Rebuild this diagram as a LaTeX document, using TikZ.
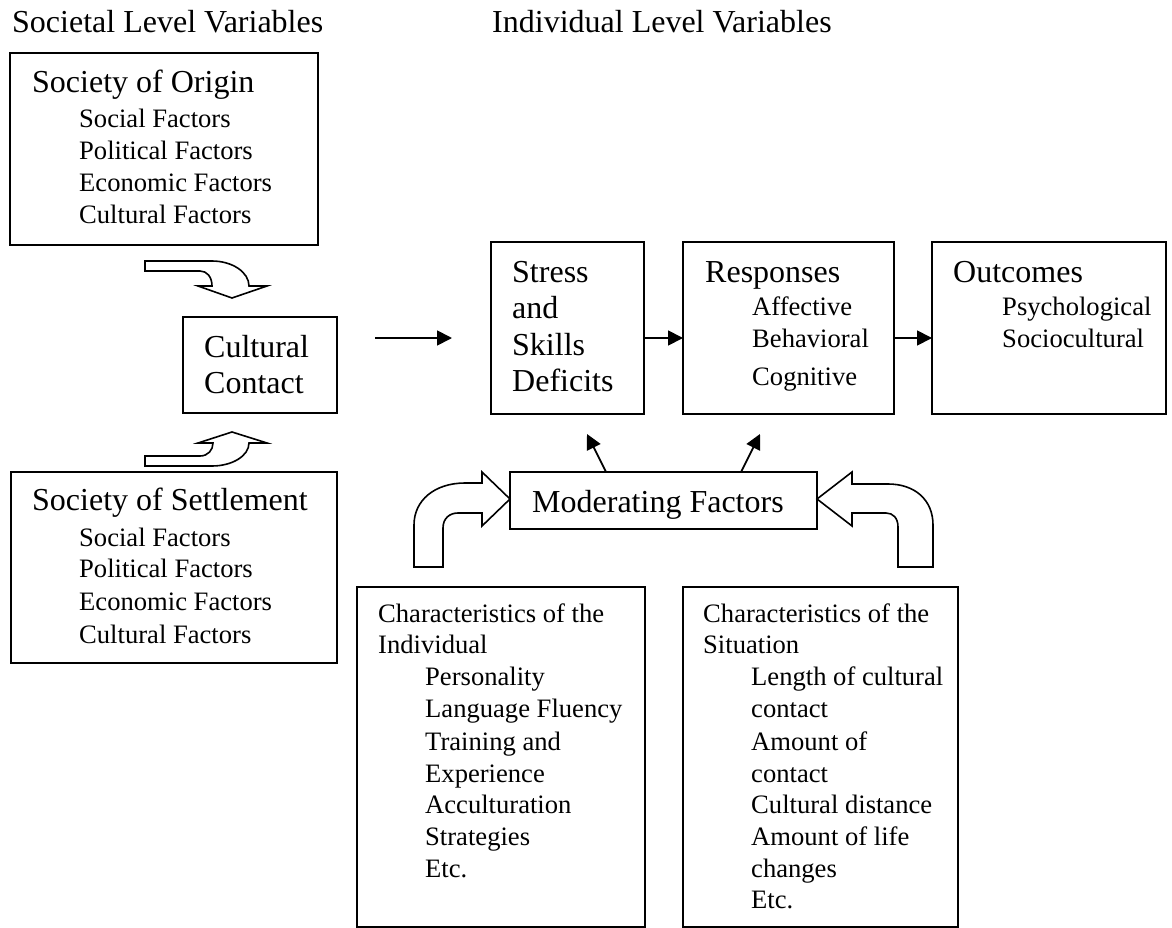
\documentclass[tikz,border=0pt]{standalone}
\usepackage{fontspec}
\setmainfont{Liberation Serif}
\usetikzlibrary{arrows.meta,calc}
\newcommand{\titlefont}{\fontsize{32}{37}\selectfont}
\newcommand{\itemfont}{\fontsize{26.6}{32}\selectfont}
\tikzset{
  box/.style={draw, line width=1.8, inner sep=0, outer sep=0, anchor=north west},
  ttl/.style={anchor=base west, inner sep=0, font=\titlefont},
  itm/.style={anchor=base west, inner sep=0, font=\itemfont},
  arr/.style={line width=1.8, -{Triangle[length=15,width=15]}},
  bent/.style={draw, line width=1.6, fill=white, line join=miter}
}
\begin{document}
\begin{tikzpicture}[x=1pt,y=-1pt]
\useasboundingbox (0,0) rectangle (1172,928);
% headings
\node[ttl] (hs) at (12,33) {Societal Level Variables};
\node[ttl] (hi) at (492,33) {Individual Level Variables};
% boxes
\node[box, minimum width=308, minimum height=192] (origin) at (10,53) {};
\node[box, minimum width=326, minimum height=191] (settle) at (11,472) {};
\node[box, minimum width=154, minimum height=96] (cc) at (183,317) {};
\node[box, minimum width=153, minimum height=172] (stress) at (491,242) {};
\node[box, minimum width=211, minimum height=172] (resp) at (683,242) {};
\node[box, minimum width=234, minimum height=172] (outc) at (932,242) {};
\node[box, minimum width=307, minimum height=57] (mod) at (510,472) {};
\node[box, minimum width=288, minimum height=340] (indiv) at (357,587) {};
\node[box, minimum width=275, minimum height=340] (situ) at (683,587) {};
% society of origin
\node[ttl] (ot) at (32,93) {Society of Origin};
\foreach \yy/\txt [count=\k] in {128/Social Factors,160/Political Factors,192/Economic Factors,223/Cultural Factors}
  \node[itm] (oi\k) at (79,\yy) {\txt};
% society of settlement
\node[ttl] (st) at (32,510) {Society of Settlement};
\foreach \yy/\txt [count=\k] in {546/Social Factors,577/Political Factors,610/Economic Factors,643/Cultural Factors}
  \node[itm] (si\k) at (79,\yy) {\txt};
% cultural contact
\node[ttl] (cc1) at (204,357) {Cultural};
\node[ttl] (cc2) at (204,393) {Contact};
% stress
\foreach \yy/\txt [count=\k] in {282/Stress,318.5/and,355/Skills,391.5/Deficits}
  \node[ttl] (sd\k) at (512,\yy) {\txt};
% responses
\node[ttl] (rt) at (705,282) {Responses};
\foreach \yy/\txt [count=\k] in {315/Affective,347/Behavioral,385/Cognitive}
  \node[itm] (ri\k) at (752,\yy) {\txt};
% outcomes
\node[ttl] (ut) at (953,282) {Outcomes};
\foreach \yy/\txt [count=\k] in {315/Psychological,347/Sociocultural}
  \node[itm] (ui\k) at (1002,\yy) {\txt};
% moderating
\node[ttl] (mt) at (532,512) {Moderating Factors};
% characteristics of the individual
\node[itm] (ci1) at (378,622) {Characteristics of the};
\node[itm] (ci2) at (378,653) {Individual};
\foreach \yy/\txt [count=\k] in {685/Personality,717/Language Fluency,750/Training and,782/Experience,813/Acculturation,845/Strategies,877/Etc.}
  \node[itm] (ii\k) at (425,\yy) {\txt};
% characteristics of the situation
\node[itm] (cs1) at (703,622) {Characteristics of the};
\node[itm] (cs2) at (703,653) {Situation};
\foreach \yy/\txt [count=\k] in {685/Length of cultural,717/contact,750/Amount of,782/contact,813/Cultural distance,845/Amount of life,877/changes,908/Etc.}
  \node[itm] (ti\k) at (751,\yy) {\txt};
% straight connectors
\coordinate (rowy) at (0,338);
\coordinate (ccA) at (375,338);
\coordinate (ccB) at (452,338);
\draw[arr] (ccA) -- (ccB);
\draw[arr] (stress.east |- rowy) -- (resp.west |- rowy);
\draw[arr] (resp.east |- rowy) -- (outc.west |- rowy);
\draw[arr] ($(mod.north west)+(96,0)$) -- (587,434);
\draw[arr] ($(mod.north west)+(231,0)$) -- (760,434);
% bent block arrows
\path[bent] (145,261) -- (212,261) .. controls (232,261) and (249,272) .. (249,286)
  -- (267,286) -- (232,298) -- (198,286) -- (212,286)
  .. controls (212,277) and (207,271) .. (200,271) -- (145,271) -- cycle;
\path[bent] (145,466) -- (212,466) .. controls (232,466) and (249,456) .. (249,443)
  -- (267,443) -- (232,432) -- (198,443) -- (213,443)
  .. controls (213,450) and (208,456) .. (200,456) -- (145,456) -- cycle;
\path[bent] (414,567) -- (414,525) .. controls (414,500) and (435,483) .. (465,483)
  -- (482,483) -- (482,472) -- (510,499) -- (482,526) -- (482,513) -- (458,513)
  .. controls (450,513) and (443,518) .. (443,528) -- (443,567) -- cycle;
\path[bent] (933,567) -- (933,525) .. controls (933,500) and (915,484) .. (888,484)
  -- (852,484) -- (852,472) -- (817,499) -- (852,526) -- (852,513) -- (886,513)
  .. controls (893,513) and (898,518) .. (898,527) -- (898,567) -- cycle;
\end{tikzpicture}
\end{document}
